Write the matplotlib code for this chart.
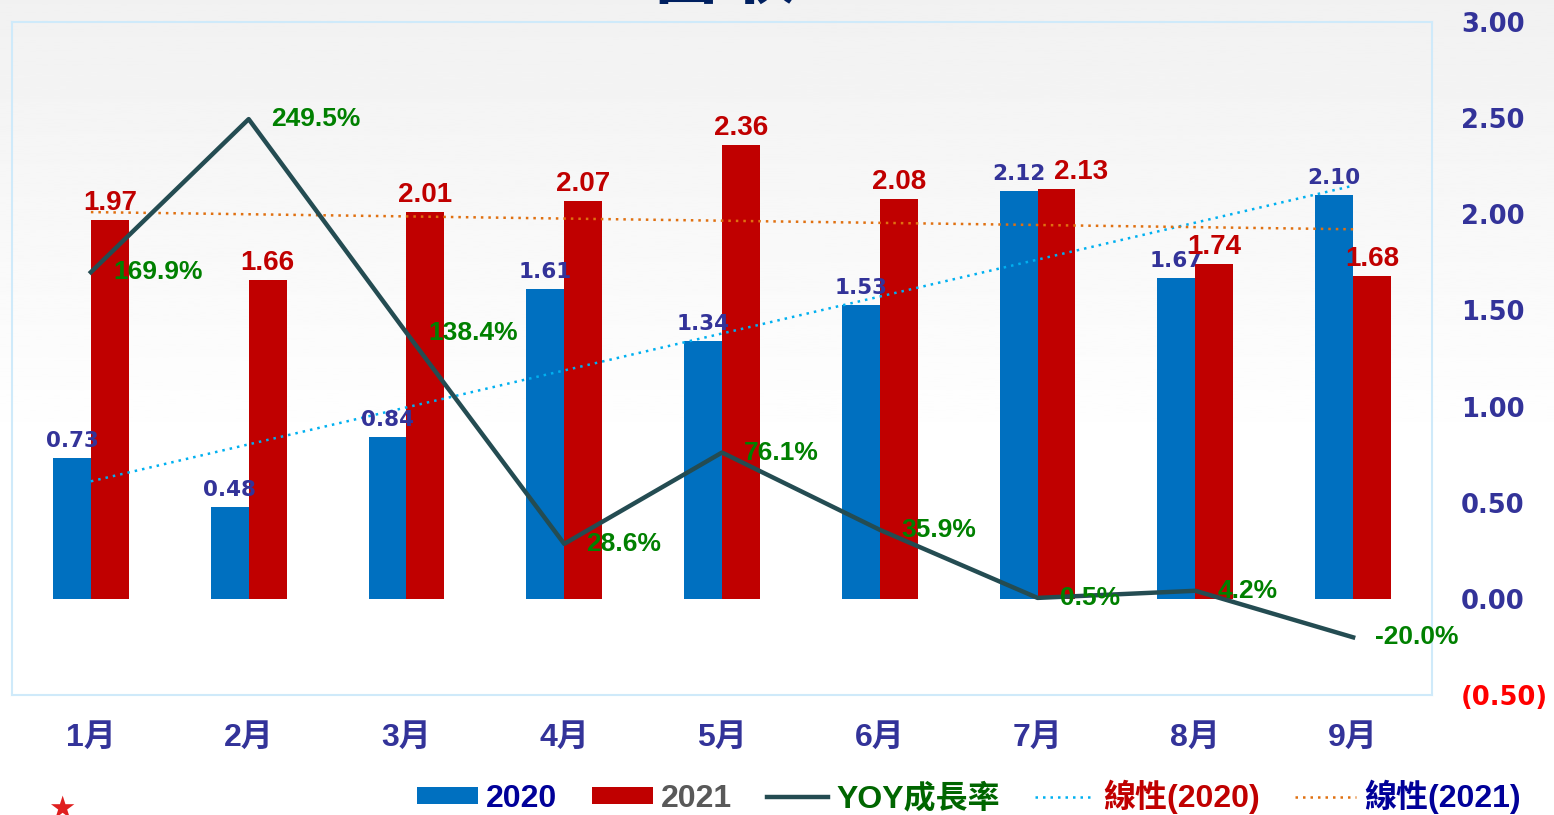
import numpy as np
import matplotlib
matplotlib.use("Agg")
import matplotlib.pyplot as plt
from matplotlib import font_manager

months = ["1月", "2月", "3月", "4月", "5月", "6月", "7月", "8月", "9月"]
rev_2020 = [0.73, 0.48, 0.84, 1.61, 1.34, 1.53, 2.12, 1.67, 2.10]
rev_2021 = [1.97, 1.66, 2.01, 2.07, 2.36, 2.08, 2.13, 1.74, 1.68]
yoy = [1.699, 2.495, 1.384, 0.286, 0.761, 0.359, 0.005, 0.042, -0.200]
yoy_labels = ["169.9%", "249.5%", "138.4%", "28.6%", "76.1%", "35.9%", "0.5%", "4.2%", "-20.0%"]
y_ticks = [-0.5, 0, 0.5, 1.0, 1.5, 2.0, 2.5, 3.0]
y_ticklabels = ["(0.50)", "0.00", "0.50", "1.00", "1.50", "2.00", "2.50", "3.00"]

installed = {f.name for f in font_manager.fontManager.ttflist}
narrow = "Liberation Sans Narrow" if "Liberation Sans Narrow" in installed else "Liberation Sans"
CJK = "Noto Sans CJK TC"

BLUE = "#0070c0"
RED = "#c00000"
NAVY = "#333399"
GREEN = "#008000"
YOYC = "#244c52"

fig = plt.figure(figsize=(15.54, 8.15), dpi=100)

# light grey to white background
bg = fig.add_axes([0, 0, 1, 1], zorder=-10)
grad = np.linspace(0, 1, 300).reshape(-1, 1)
grad = np.clip(grad * 1.8, 0, 1)
bg.imshow(0.945 + 0.055 * grad, cmap="gray", vmin=0, vmax=1, aspect="auto", extent=[0, 1, 0, 1], origin="upper")
bg.axis("off")

ax = fig.add_axes([12 / 1554, 120 / 815, 1420 / 1554, 673 / 815])
ax.set_facecolor("none")
for s in ax.spines.values():
    s.set_color("#cfeafa")
    s.set_linewidth(1.5)

x = np.arange(len(months))
w = 0.24
ax.bar(x - w / 2, rev_2020, w, color=BLUE, label="2020", zorder=2)
ax.bar(x + w / 2, rev_2021, w, color=RED, label="2021", zorder=2)
ax.plot(x, yoy, color=YOYC, lw=3.2, label="YOY成長率", zorder=4)

# linear trend lines
p20 = np.polyfit(x, rev_2020, 1)
p21 = np.polyfit(x, rev_2021, 1)
ax.plot(x, np.polyval(p20, x), color="#00b0f0", lw=1.8, ls=(0, (1, 2)), label="線性(2020)", zorder=3)
ax.plot(x, np.polyval(p21, x), color="#e07010", lw=1.8, ls=(0, (1, 2)), label="線性(2021)", zorder=3)

for i in range(len(months)):
    ax.annotate(f"{rev_2020[i]:.2f}", (x[i] - w / 2, rev_2020[i]), xytext=(0, 7), textcoords="offset pixels",
                ha="center", va="bottom", fontsize=15.5, fontweight="bold", color=NAVY,
                family="DejaVu Sans", zorder=6)
    dx = 25 if i == 6 else 0   # 7月 label nudged right like the original
    ax.annotate(f"{rev_2021[i]:.2f}", (x[i] + w / 2, rev_2021[i]), xytext=(dx, 4), textcoords="offset pixels",
                ha="center", va="bottom", fontsize=20, fontweight="bold", color=RED,
                family="Liberation Sans", zorder=6)
    ax.annotate(yoy_labels[i], (x[i], yoy[i]), xytext=(22, 0), textcoords="offset pixels",
                ha="left", va="center", fontsize=19, fontweight="bold", color=GREEN,
                family="Liberation Sans", zorder=6)

ax.set_xlim(-0.5, 8.5)
ax.set_ylim(-0.5, 3.0)
ax.set_xticks(x)
ax.set_xticklabels(months, fontsize=23, fontweight="bold", color=NAVY, family=["Liberation Sans", CJK])
ax.tick_params(axis="x", length=0, pad=20)
ax.yaxis.tick_right()
ax.set_yticks(y_ticks)
ax.set_yticklabels(y_ticklabels, fontsize=18.5, fontweight="bold", color=NAVY, family="DejaVu Sans")
ax.get_yticklabels()[0].set_color("#ff0000")
ax.tick_params(axis="y", length=0, pad=21)

# title, cut off at the top edge
fig.text(722 / 1554, 1 + 3 / 815, "營收", ha="center", va="baseline", fontsize=54,
         fontweight="bold", color="#002060", family=CJK)

# small logo star bottom left
fig.text(62 / 1554, -9 / 815, "★", ha="center", va="bottom", fontsize=22, color="#e02020", family="DejaVu Sans")

handles, labels = ax.get_legend_handles_labels()
order = [3, 4, 0, 1, 2]
handles = [handles[i] for i in order]
labels = [labels[i] for i in order]
leg = fig.legend(handles, labels, loc="center", bbox_to_anchor=(969 / 1554, 18 / 815), ncol=5,
                 frameon=False, handlelength=1.9, handleheight=0.45, handletextpad=0.25, columnspacing=1.1,
                 prop={"family": [narrow, CJK], "weight": "bold", "size": 23})
legend_colors = ["#000099", "#595959", "#006600", "#c00000", "#000099"]
for t, c in zip(leg.get_texts(), legend_colors):
    t.set_color(c)

fig.savefig("out.png", dpi=100)
